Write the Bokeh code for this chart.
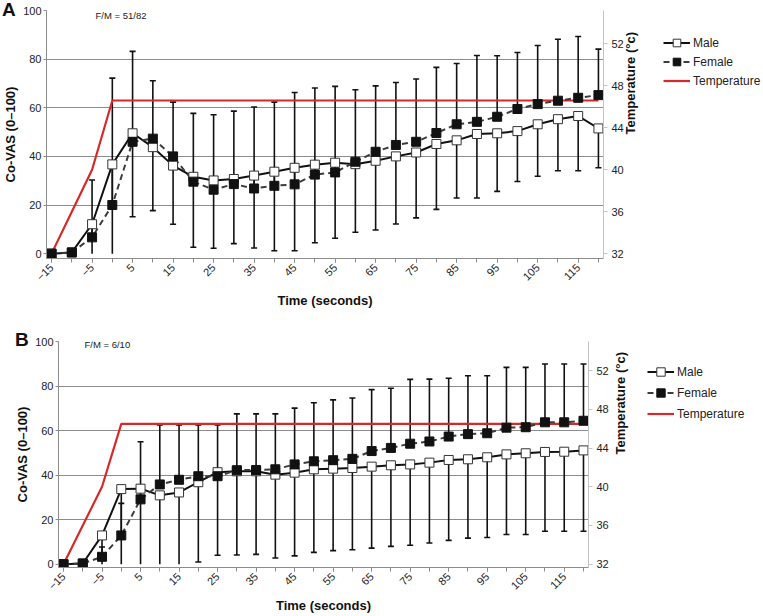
import math
from bokeh.plotting import figure
from bokeh.layouts import column, row
from bokeh.models import (Range1d, LinearAxis, FixedTicker, Label, Legend,
                          LegendItem, ColumnDataSource, Div)
from bokeh.embed import file_html
from bokeh.resources import INLINE

FONT = "Liberation Sans"

# ---------------- data ----------------
time_s = [-15, -10, -5, 0, 5, 10, 15, 20, 25, 30, 35, 40, 45, 50, 55, 60,
          65, 70, 75, 80, 85, 90, 95, 100, 105, 110, 115, 120]
x_label_ticks = [-15, -5, 5, 15, 25, 35, 45, 55, 65, 75, 85, 95, 105, 115]
x_label_text = {-15: "\u221215", -5: "\u22125"}
vas_ticks = [0, 20, 40, 60, 80, 100]
temp_ticks = [32, 36, 40, 44, 48, 52]
series_names = ["Male", "Female", "Temperature"]

# Panel A (F/M = 51/82)
male_a = [0, 0.5, 12.1, 36.7, 49.5, 43.8, 36.2, 31.6, 30.1, 30.7, 32.1, 33.7, 35.3, 36.6,
          37.4, 36.8, 38.2, 40.0, 41.6, 45.1, 46.6, 49.2, 49.5, 50.4, 53.2, 55.3, 56.6, 51.5]
female_a = [0, 0.5, 6.7, 20.0, 46.0, 47.3, 40.0, 29.6, 26.3, 28.6, 26.8, 27.9, 28.5, 32.5,
            33.4, 37.8, 41.9, 44.7, 46.0, 49.6, 53.2, 54.2, 56.3, 59.5, 61.5, 62.9, 64.1, 65.2]
male_sd_a = [0, 0, 14.0, 38.0, 34.3, 26.1, 24.1, 29.0, 27.9, 26.6, 29.8, 32.5, 34.1, 32.1,
             31.1, 28.0, 28.5, 27.8, 26.9, 26.9, 23.7, 26.3, 23.9, 20.7, 21.4, 21.2, 22.5, 16.2]
female_sd_a = [0, 0, 23.6, 52.2, 37.2, 23.8, 22.3, 28.1, 30.8, 30.0, 33.5, 34.4, 37.8, 35.6,
               35.4, 29.6, 27.1, 25.7, 25.8, 27.0, 25.0, 27.3, 25.1, 23.2, 24.1, 25.3, 25.2, 18.9]
temp_a = [32, 36, 40, 46.6, 46.6, 46.6, 46.6, 46.6, 46.6, 46.6, 46.6, 46.6, 46.6, 46.6,
          46.6, 46.6, 46.6, 46.6, 46.6, 46.6, 46.6, 46.6, 46.6, 46.6, 46.6, 46.6, 46.6, 46.6]

# Panel B (F/M = 6/10)
male_b = [0, 0.3, 12.9, 33.7, 33.9, 30.9, 32.2, 36.8, 41.3, 41.7, 41.7, 40.2, 41.1, 42.6,
          42.9, 43.2, 43.8, 44.4, 44.8, 45.6, 46.8, 47.1, 48.0, 49.3, 49.8, 50.4, 50.5, 51.1]
female_b = [0, 0.3, 3.3, 12.9, 29.1, 35.8, 37.9, 39.5, 39.5, 42.2, 42.3, 42.6, 44.8, 46.2,
            46.7, 47.3, 50.8, 52.2, 54.1, 55.1, 57.3, 58.4, 58.8, 61.3, 61.5, 63.7, 63.7, 64.4]
male_sd_b = [0, 0, 14.0, 35.0, 36.0, 33.0, 34.0, 35.8, 37.3, 37.6, 37.3, 37.4, 37.4, 37.3,
             36.8, 36.7, 36.6, 36.4, 36.3, 36.1, 36.1, 35.4, 36.0, 36.0, 36.5, 35.6, 35.7, 36.3]
female_sd_b = [0, 0, 4.4, 14.4, 25.9, 26.7, 24.6, 23.0, 23.0, 25.3, 25.2, 24.9, 25.3, 26.3,
               27.1, 27.3, 27.6, 26.8, 28.9, 28.0, 26.2, 26.2, 25.8, 27.1, 26.9, 26.2, 26.2, 25.5]
temp_b = [32, 36, 40, 46.5, 46.5, 46.5, 46.5, 46.5, 46.5, 46.5, 46.5, 46.5, 46.5, 46.5,
          46.5, 46.5, 46.5, 46.5, 46.5, 46.5, 46.5, 46.5, 46.5, 46.5, 46.5, 46.5, 46.5, 46.5]

RED = "#d42a2a"
MALE_LINE = dict(line_color="#111111", line_width=2)
FEMALE_LINE = dict(line_color="#3c3c3c", line_width=2, line_dash="6 4")
MALE_PT = dict(marker="square", fill_color="white", line_color="#333333", line_width=1)
FEMALE_PT = dict(marker="square", fill_color="#111111", line_color="#111111", line_width=1)
TEMP_LINE = dict(line_color=RED, line_width=2.2)
HAS_LABEL_ORIENT = "axis_label_orientation" in LinearAxis.properties()
TOTAL_W = 763


def style_axis_title(ax, standoff):
    ax.axis_label_text_font = FONT
    ax.axis_label_text_font_size = "13px"
    ax.axis_label_text_font_style = "bold"
    ax.axis_label_text_color = "#111111"
    ax.axis_label_standoff = standoff


def panel(fm_text, male, female, male_sd, female_sd, temp, g):
    p = figure(width=g["w"], height=g["h"], x_range=Range1d(*g["xr"]),
               y_range=Range1d(*g["yr"]), output_backend="svg", toolbar_location=None,
               min_border_left=g["bl"], min_border_right=g["br"],
               min_border_top=g["bt"], min_border_bottom=g["bb"])
    p.outline_line_color = None
    p.background_fill_color = "white"
    p.xgrid.visible = False
    p.ygrid.ticker = FixedTicker(ticks=[20, 40, 60, 80])
    p.ygrid.grid_line_color = "#8c8c8c"
    p.ygrid.grid_line_width = 1.2

    # left axis
    ya = p.yaxis[0]
    ya.ticker = FixedTicker(ticks=vas_ticks)
    ya.axis_line_color = "#8c8c8c"
    ya.major_tick_line_color = "#8c8c8c"
    ya.major_tick_out = 3
    ya.major_tick_in = 0
    ya.minor_tick_line_color = None
    ya.major_label_standoff = 2
    ya.major_label_text_font = FONT
    ya.major_label_text_font_size = "11px"
    ya.major_label_text_color = "#222222"
    ya.axis_label = "Co-VAS (0\u2013100)"
    style_axis_title(ya, 2)

    # bottom axis
    xa = p.xaxis[0]
    xa.ticker = FixedTicker(ticks=x_label_ticks, minor_ticks=time_s)
    xa.major_label_overrides = x_label_text
    xa.major_label_orientation = math.pi / 4
    xa.axis_line_color = "#8c8c8c"
    xa.major_tick_line_color = "#8c8c8c"
    xa.minor_tick_line_color = "#8c8c8c"
    xa.major_tick_out = 4
    xa.major_tick_in = 0
    xa.minor_tick_out = 4
    xa.minor_tick_in = 0
    xa.major_label_standoff = 3
    xa.major_label_text_font = FONT
    xa.major_label_text_font_size = "11px"
    xa.major_label_text_color = "#222222"
    xa.axis_label = "Time (seconds)"
    style_axis_title(xa, g["xs"])

    # right (temperature) axis
    p.extra_y_ranges = {"temp": Range1d(*g["tr"])}
    ra = LinearAxis(y_range_name="temp", ticker=FixedTicker(ticks=temp_ticks))
    ra.axis_line_color = "#c4c4c4"
    ra.major_tick_line_color = "#c4c4c4"
    ra.minor_tick_line_color = None
    ra.major_tick_out = 4
    ra.major_tick_in = 0
    ra.major_label_standoff = 4
    ra.major_label_text_font = FONT
    ra.major_label_text_font_size = "11px"
    ra.major_label_text_color = "#222222"
    ra.axis_label = "Temperature (\u00b0c)"
    style_axis_title(ra, g["rs"])
    if HAS_LABEL_ORIENT:
        ra.axis_label_orientation = math.pi / 2
    p.add_layout(ra, "right")

    # error bars: female upward (+SD), male downward (-SD), clipped at 0
    fx, fy0, fy1 = [], [], []
    mx, my0, my1 = [], [], []
    cap_x, cap_y = [], []
    for t, m, f, ms, fs in zip(time_s, male, female, male_sd, female_sd):
        if fs > 0:
            fx.append(t); fy0.append(f); fy1.append(min(f + fs, 100))
            if f + fs <= 100:
                cap_x.append(t); cap_y.append(f + fs)
        if ms > 0:
            mx.append(t); my0.append(m); my1.append(max(m - ms, 0))
            if m - ms >= 0:
                cap_x.append(t); cap_y.append(m - ms)
    p.segment(x0=fx, y0=fy0, x1=fx, y1=fy1, line_color="#111111", line_width=1.6)
    p.segment(x0=mx, y0=my0, x1=mx, y1=my1, line_color="#111111", line_width=1.6)
    p.scatter(x=cap_x, y=cap_y, marker="dash", size=6, line_color="#111111", line_width=1.6)

    # temperature line
    p.line(time_s, temp, y_range_name="temp", **TEMP_LINE)

    src = ColumnDataSource(dict(t=time_s, m=male, f=female))
    p.line("t", "m", source=src, **MALE_LINE)
    p.line("t", "f", source=src, **FEMALE_LINE)
    p.scatter("t", "m", source=src, size=9, **MALE_PT)
    p.scatter("t", "f", source=src, size=9, **FEMALE_PT)

    p.add_layout(Label(x=g["fm"][0], y=g["fm"][1], x_units="screen", y_units="screen",
                       text=fm_text, text_font=FONT, text_font_size="9.5px",
                       text_color="#222222", text_align="left", text_baseline="middle"))
    return p


def legend_fig(g):
    lf = figure(width=TOTAL_W - g["w"], height=g["h"], x_range=Range1d(0, 1),
                y_range=Range1d(0, 1), output_backend="svg", toolbar_location=None,
                x_axis_type=None, y_axis_type=None, min_border=0)
    lf.outline_line_color = None
    lf.grid.visible = False
    # sample glyphs for the legend only (kept outside the visible ranges)
    gx, gy = [5, 6], [5, 6]
    ml = lf.line(x=gx, y=gy, **MALE_LINE)
    mp = lf.scatter(x=gx, y=gy, size=9, **MALE_PT)
    fl = lf.line(x=gx, y=gy, **FEMALE_LINE)
    fp = lf.scatter(x=gx, y=gy, size=9, **FEMALE_PT)
    tl = lf.line(x=gx, y=gy, **TEMP_LINE)
    leg = Legend(items=[LegendItem(label=series_names[0], renderers=[ml, mp]),
                        LegendItem(label=series_names[1], renderers=[fl, fp]),
                        LegendItem(label=series_names[2], renderers=[tl])],
                 location=g["leg"], orientation="vertical",
                 label_text_font=FONT, label_text_font_size="12px",
                 label_text_color="#222222",
                 glyph_width=27, glyph_height=g["lh"], label_height=g["lh"],
                 label_standoff=3, spacing=0, padding=0, margin=0,
                 border_line_color=None, background_fill_alpha=0)
    lf.add_layout(leg)
    return lf


geom_a = dict(w=650, h=314, xr=(-16.25, 121.25), yr=(-2, 100), tr=(31.536, 55.18),
              bl=43, br=47, bt=10, bb=56, xs=6, rs=4,
              leg=(13, 168), lh=19, fm=(49, 243))
geom_b = dict(w=640, h=302, xr=(-16.3, 121.3), yr=(-1.5, 100), tr=(31.655, 55.01),
              bl=58, br=52, bt=27, bb=47, xs=2, rs=9,
              leg=(7, 143), lh=21, fm=(26, 223))

pa = panel("F/M = 51/82", male_a, female_a, male_sd_a, female_sd_a, temp_a, geom_a)
pb = panel("F/M = 6/10", male_b, female_b, male_sd_b, female_sd_b, temp_b, geom_b)
la = legend_fig(geom_a)
lb = legend_fig(geom_b)


def letter(text, left, top):
    return Div(text=text, width=24, height=24,
               styles={"position": "absolute", "left": f"{left}px", "top": f"{top}px",
                       "z-index": "10", "font-family": FONT, "font-size": "19px",
                       "font-weight": "bold", "line-height": "19px", "color": "#111111",
                       "margin": "0px", "padding": "0px"})


div_a = letter("A", 2, 0)
div_b = letter("B", 15, 330)

layout = column(row(pa, la, spacing=0), row(pb, lb, spacing=0), div_a, div_b, spacing=0)
open("out.html", "w").write(file_html(layout, INLINE))
